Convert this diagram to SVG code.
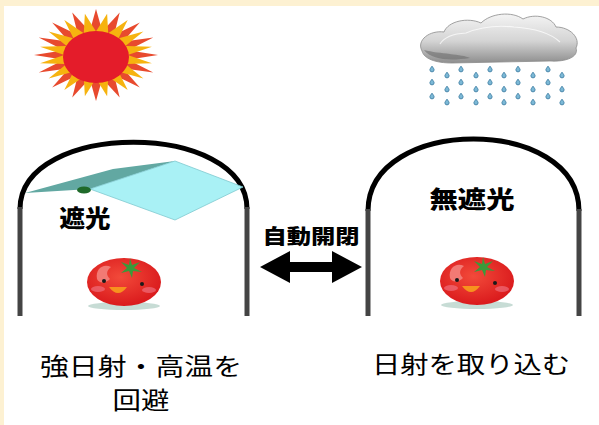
<svg xmlns="http://www.w3.org/2000/svg" xmlns:xlink="http://www.w3.org/1999/xlink" width="599" height="425" viewBox="0 0 599 425">
  <style>
    .arch { fill: none; stroke: #000; stroke-width: 5; stroke-linecap: butt; }
    .leg { fill: none; stroke: #444; stroke-width: 5; }
    .label { font-family: "Noto Sans CJK JP", "Noto Sans", sans-serif; font-weight: 900; fill: #000; }
    .caption { font-family: "Noto Sans CJK JP", "Noto Sans", sans-serif; font-weight: 400; fill: #000; font-size: 24px; }
  </style>
  <defs>
    <polygon id="rayRed" points="-8,-24 0,-62 8,-24" fill="#e84a2e"/>
    <polygon id="rayGold" points="-8,-24 0,-57 8,-24" fill="#f6b30f"/>
    <linearGradient id="cloudFill" x1="0" y1="0" x2="0" y2="1">
      <stop offset="0" stop-color="#f4f4f4"/>
      <stop offset="0.55" stop-color="#d4d4d4"/>
      <stop offset="1" stop-color="#8e8e8e"/>
    </linearGradient>
    <radialGradient id="tomatoFill" cx="0.45" cy="0.4" r="0.65">
      <stop offset="0" stop-color="#f24a3a"/>
      <stop offset="1" stop-color="#d8161a"/>
    </radialGradient>
    <g id="drop">
      <path d="M0,-2.8 C1.2,-1.2 2.1,0 2.1,0.8 A2.1,2.1 0 0 1 -2.1,0.8 C-2.1,0 -1.2,-1.2 0,-2.8Z" fill="#7bb8d6" stroke="#3f7fa4" stroke-width="0.9"/>
    </g>
    <g id="tomato">
      <ellipse cx="0" cy="24" rx="36" ry="4" fill="#b9d3cb" opacity="0.8"/>
      <ellipse cx="0" cy="0" rx="37" ry="24" fill="url(#tomatoFill)"/>
      <path d="M-27,-3 C-29,-14 -20,-19 -13,-15 C-18,-11 -18,-7 -14,-3 C-18,1 -25,2 -27,-3Z" fill="#f27a74"/>
      <ellipse cx="-26" cy="7" rx="7" ry="3" fill="#f27a8a" opacity="0.6"/>
      <ellipse cx="25" cy="8" rx="7" ry="3" fill="#f27a8a" opacity="0.6"/>
      <circle cx="-20" cy="-1" r="2" fill="#1a1a1a"/>
      <circle cx="18" cy="2" r="2" fill="#1a1a1a"/>
      <path d="M-15,5 Q-6,17 3,5 Z" fill="#f7921e"/>
      <polygon points="6,-24 8,-17 16,-20 10,-14 18,-10 9,-11 8,-4 5,-11 -3,-9 3,-14 -3,-20 5,-17" fill="#3a9a3a"/>
    </g>
  </defs>

  <!-- page background with cream margin -->
  <rect x="0" y="0" width="599" height="425" fill="#fdf1d2"/>
  <rect x="4" y="6" width="595" height="419" fill="#ffffff"/>

  <!-- sun -->
  <g id="sun">
    <g transform="translate(96,55) scale(1,0.74)">
      <use xlink:href="#rayRed" transform="rotate(0)"/>
      <use xlink:href="#rayRed" transform="rotate(22.5)"/>
      <use xlink:href="#rayRed" transform="rotate(45)"/>
      <use xlink:href="#rayRed" transform="rotate(67.5)"/>
      <use xlink:href="#rayRed" transform="rotate(90)"/>
      <use xlink:href="#rayRed" transform="rotate(112.5)"/>
      <use xlink:href="#rayRed" transform="rotate(135)"/>
      <use xlink:href="#rayRed" transform="rotate(157.5)"/>
      <use xlink:href="#rayRed" transform="rotate(180)"/>
      <use xlink:href="#rayRed" transform="rotate(202.5)"/>
      <use xlink:href="#rayRed" transform="rotate(225)"/>
      <use xlink:href="#rayRed" transform="rotate(247.5)"/>
      <use xlink:href="#rayRed" transform="rotate(270)"/>
      <use xlink:href="#rayRed" transform="rotate(292.5)"/>
      <use xlink:href="#rayRed" transform="rotate(315)"/>
      <use xlink:href="#rayRed" transform="rotate(337.5)"/>
      <use xlink:href="#rayGold" transform="rotate(11.25)"/>
      <use xlink:href="#rayGold" transform="rotate(33.75)"/>
      <use xlink:href="#rayGold" transform="rotate(56.25)"/>
      <use xlink:href="#rayGold" transform="rotate(78.75)"/>
      <use xlink:href="#rayGold" transform="rotate(101.25)"/>
      <use xlink:href="#rayGold" transform="rotate(123.75)"/>
      <use xlink:href="#rayGold" transform="rotate(146.25)"/>
      <use xlink:href="#rayGold" transform="rotate(168.75)"/>
      <use xlink:href="#rayGold" transform="rotate(191.25)"/>
      <use xlink:href="#rayGold" transform="rotate(213.75)"/>
      <use xlink:href="#rayGold" transform="rotate(236.25)"/>
      <use xlink:href="#rayGold" transform="rotate(258.75)"/>
      <use xlink:href="#rayGold" transform="rotate(281.25)"/>
      <use xlink:href="#rayGold" transform="rotate(303.75)"/>
      <use xlink:href="#rayGold" transform="rotate(326.25)"/>
      <use xlink:href="#rayGold" transform="rotate(348.75)"/>
    </g>
    <ellipse cx="96" cy="57" rx="33" ry="26" fill="#e41c2a"/>
  </g>

  <!-- rain cloud -->
  <g id="cloud">
    <path d="M422,51 C416,40 430,30 444,32 C448,21 468,17 481,23 C491,13 512,11 523,19 C535,13 552,17 556,27 C570,27 581,38 576,48 C579,57 566,62 550,61 L452,63 C436,63 424,59 422,51 Z" fill="url(#cloudFill)" stroke="#8a8a8a" stroke-width="0.8"/>
    <path d="M424,50 C432,60 450,61 470,58 C462,54 440,54 424,50 Z" fill="#6e6e6e" opacity="0.6"/>
    <path d="M440,44 Q446,34 466,33 Q488,24 514,27 Q546,29 560,42" fill="none" stroke="#ffffff" stroke-width="1.2" opacity="0.7"/>
    <g>
      <use xlink:href="#drop" x="432" y="69"/>
      <use xlink:href="#drop" x="461" y="69"/>
      <use xlink:href="#drop" x="490" y="69"/>
      <use xlink:href="#drop" x="518" y="69"/>
      <use xlink:href="#drop" x="548" y="69"/>
      <use xlink:href="#drop" x="447" y="75"/>
      <use xlink:href="#drop" x="476" y="75"/>
      <use xlink:href="#drop" x="504" y="75"/>
      <use xlink:href="#drop" x="533" y="75"/>
      <use xlink:href="#drop" x="562" y="75"/>
      <use xlink:href="#drop" x="432" y="82"/>
      <use xlink:href="#drop" x="461" y="82"/>
      <use xlink:href="#drop" x="490" y="82"/>
      <use xlink:href="#drop" x="518" y="82"/>
      <use xlink:href="#drop" x="548" y="82"/>
      <use xlink:href="#drop" x="447" y="89"/>
      <use xlink:href="#drop" x="476" y="89"/>
      <use xlink:href="#drop" x="504" y="89"/>
      <use xlink:href="#drop" x="533" y="89"/>
      <use xlink:href="#drop" x="562" y="89"/>
      <use xlink:href="#drop" x="432" y="96"/>
      <use xlink:href="#drop" x="461" y="96"/>
      <use xlink:href="#drop" x="490" y="96"/>
      <use xlink:href="#drop" x="518" y="96"/>
      <use xlink:href="#drop" x="548" y="96"/>
      <use xlink:href="#drop" x="447" y="102"/>
      <use xlink:href="#drop" x="476" y="102"/>
      <use xlink:href="#drop" x="504" y="102"/>
      <use xlink:href="#drop" x="533" y="102"/>
      <use xlink:href="#drop" x="562" y="102"/>
    </g>
  </g>

  <!-- shaded greenhouse -->
  <g id="greenhouse-shaded">
    <path class="arch" d="M20,209 C20,120 247,120 247,209"/>
    <line class="leg" x1="20" y1="207" x2="20" y2="316"/>
    <line class="leg" x1="247" y1="207" x2="247" y2="316"/>
    <polygon points="25,193 113,169 175,161 90,189" fill="#62a8a2"/>
    <polygon points="90,189 175,161 243,187 175,220" fill="#a9f1f5" stroke="#7fc9cf" stroke-width="0.8"/>
    <ellipse cx="84" cy="190" rx="7" ry="3.5" fill="#1f6a2a"/>
    <text class="label" x="85" y="227" font-size="24" text-anchor="middle" textLength="51" lengthAdjust="spacingAndGlyphs">遮光</text>
    <use xlink:href="#tomato" x="124" y="282"/>
  </g>

  <!-- unshaded greenhouse -->
  <g id="greenhouse-open">
    <path class="arch" d="M368,211 C368,115 579,115 579,211"/>
    <line class="leg" x1="368" y1="209" x2="368" y2="316"/>
    <line class="leg" x1="579" y1="209" x2="579" y2="316"/>
    <text class="label" x="472" y="208" font-size="24" text-anchor="middle" textLength="85" lengthAdjust="spacingAndGlyphs">無遮光</text>
    <use xlink:href="#tomato" x="477" y="281"/>
  </g>

  <!-- automatic open/close switch between the two -->
  <g id="connectors">
    <polygon points="260,267 290,251 290,262 332,262 332,251 362,267 332,283 332,272 290,272 290,283" fill="#000"/>
  </g>
  <g id="switch-label">
    <text class="label" x="311" y="244" font-size="20" text-anchor="middle" textLength="97" lengthAdjust="spacingAndGlyphs">自動開閉</text>
  </g>

  <!-- captions -->
  <g id="caption-shaded">
    <text class="caption" x="141" y="375" text-anchor="middle" textLength="202" lengthAdjust="spacingAndGlyphs">強日射・高温を</text>
    <text class="caption" x="141" y="409" text-anchor="middle" textLength="57" lengthAdjust="spacingAndGlyphs">回避</text>
  </g>
  <g id="caption-open">
    <text class="caption" x="471" y="373" text-anchor="middle" textLength="198" lengthAdjust="spacingAndGlyphs">日射を取り込む</text>
  </g>
</svg>
